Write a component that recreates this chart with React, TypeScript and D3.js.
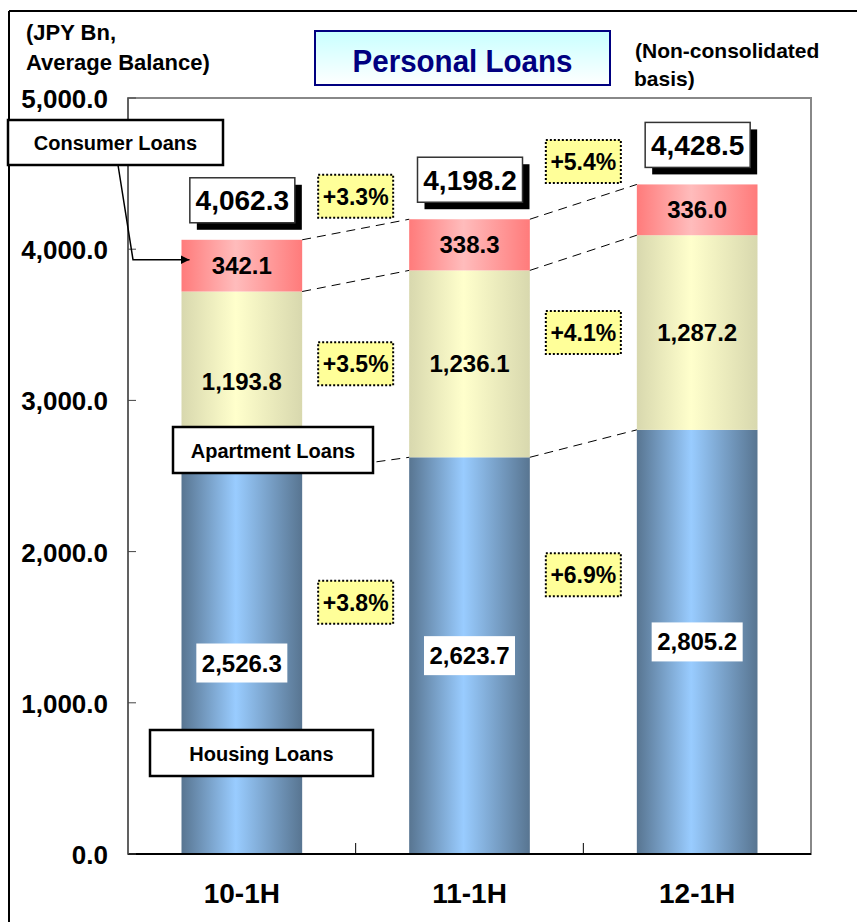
import React from "react";
import * as d3 from "d3";

const categories = ["10-1H", "11-1H", "12-1H"];
const housing = [2526.3, 2623.7, 2805.2];
const apartment = [1193.8, 1236.1, 1287.2];
const consumer = [342.1, 338.3, 336.0];
const totals = [4062.3, 4198.2, 4428.5];
const growthTotal = ["+3.3%", "+5.4%"];
const growthApartment = ["+3.5%", "+4.1%"];
const growthHousing = ["+3.8%", "+6.9%"];
const yTicks = [0, 1000, 2000, 3000, 4000, 5000];

const W = 857;
const H = 922;
const FONT = "'Liberation Sans', Arial, sans-serif";
const fmt = d3.format(",.1f");

export default function App() {
  const x = d3
    .scaleBand<string>()
    .domain(categories)
    .range([128, 811])
    .paddingInner(0.47)
    .paddingOuter(0.235);
  const y = d3.scaleLinear().domain([0, 5000]).range([854, 98]);
  const bw = x.bandwidth();
  const step = x.step();

  const stack = categories.map((c, i) => {
    const h0 = 0;
    const h1 = housing[i];
    const a1 = h1 + apartment[i];
    const c1 = a1 + consumer[i];
    return { c, i, x0: x(c)!, h0, h1, a1, c1 };
  });

  const boundaries = [(s: any) => s.h1, (s: any) => s.a1, (s: any) => s.c1];

  const growthBox = (label: string, cx: number, cy: number, key: string) => (
    <g key={key}>
      <rect x={cx - 37.5} y={cy - 21.5} width={75} height={43} fill="#ffff99" stroke="#000" strokeWidth={2} strokeDasharray="2,2" />
      <text x={cx} y={cy + 8.5} textAnchor="middle" fontFamily={FONT} fontWeight="bold" fontSize={23} fill="#000">
        {label}
      </text>
    </g>
  );

  const labelBox = (label: string, x0: number, y0: number, w: number, h: number, key: string) => (
    <g key={key}>
      <rect x={x0} y={y0} width={w} height={h} fill="#fff" stroke="#000" strokeWidth={2.5} />
      <text x={x0 + w / 2} y={y0 + h / 2 + 7.5} textAnchor="middle" fontFamily={FONT} fontWeight="bold" fontSize={20} fill="#000">
        {label}
      </text>
    </g>
  );

  return (
    <div style={{ position: "absolute", left: 0, top: 0 }}>
      <svg width={W} height={H} viewBox={`0 0 ${W} ${H}`} style={{ display: "block", background: "#fff" }}>
        <defs>
          <linearGradient id="gHousing" x1="0" x2="1" y1="0" y2="0">
            <stop offset="0" stopColor="#587591" />
            <stop offset="0.45" stopColor="#99ccff" />
            <stop offset="1" stopColor="#587591" />
          </linearGradient>
          <linearGradient id="gApartment" x1="0" x2="1" y1="0" y2="0">
            <stop offset="0" stopColor="#d8d8ae" />
            <stop offset="0.45" stopColor="#ffffcc" />
            <stop offset="1" stopColor="#d8d8ae" />
          </linearGradient>
          <linearGradient id="gConsumer" x1="0" x2="1" y1="0" y2="0">
            <stop offset="0" stopColor="#ff7b7b" />
            <stop offset="0.45" stopColor="#ffbcbc" />
            <stop offset="1" stopColor="#ff7b7b" />
          </linearGradient>
          <linearGradient id="gTitle" x1="0" x2="0" y1="0" y2="1">
            <stop offset="0" stopColor="#c8ffff" />
            <stop offset="1" stopColor="#ffffff" />
          </linearGradient>
          <marker id="arrow" viewBox="0 0 10 10" refX="10" refY="5" markerWidth="9" markerHeight="9" orient="auto" markerUnits="userSpaceOnUse">
            <path d="M0,0 L10,5 L0,10 z" fill="#000" />
          </marker>
        </defs>

        {/* outer frame */}
        <line x1={9} y1={11} x2={W} y2={11} stroke="#000" strokeWidth={2} />
        <line x1={9} y1={11} x2={9} y2={H} stroke="#000" strokeWidth={2} />

        {/* plot frame */}
        <rect x={128} y={98} width={683} height={756} fill="none" stroke="#888" strokeWidth={2} />

        {/* bars */}
        {stack.map((s) => (
          <g key={s.c}>
            <rect x={s.x0} y={y(s.h1)} width={bw} height={y(s.h0) - y(s.h1)} fill="url(#gHousing)" />
            <rect x={s.x0} y={y(s.a1)} width={bw} height={y(s.h1) - y(s.a1)} fill="url(#gApartment)" />
            <rect x={s.x0} y={y(s.c1)} width={bw} height={y(s.a1) - y(s.c1)} fill="url(#gConsumer)" />
          </g>
        ))}

        {/* dashed connectors */}
        {stack.slice(0, -1).map((s, i) =>
          boundaries.map((b, j) => {
            const n = stack[i + 1];
            return (
              <line
                key={`d${i}${j}`}
                x1={s.x0 + bw}
                y1={y(b(s))}
                x2={n.x0}
                y2={y(b(n))}
                stroke="#000"
                strokeWidth={1}
                strokeDasharray="9,6"
              />
            );
          })
        )}

        {/* axes */}
        <line x1={128} y1={854} x2={811} y2={854} stroke="#000" strokeWidth={2} />
        <line x1={128} y1={98} x2={128} y2={854} stroke="#555" strokeWidth={1.5} />
        {yTicks.map((t) => (
          <g key={t}>
            <line x1={128} x2={136} y1={y(t)} y2={y(t)} stroke="#444" strokeWidth={1} />
            <text x={108} y={y(t) + 10} textAnchor="end" fontFamily={FONT} fontWeight="bold" fontSize={26} fill="#000">
              {fmt(t)}
            </text>
          </g>
        ))}
        {categories.slice(1).map((c) => (
          <line key={c} x1={x(c)! - (step - bw) / 2} x2={x(c)! - (step - bw) / 2} y1={843} y2={854} stroke="#000" strokeWidth={1} />
        ))}
        {categories.map((c) => (
          <text key={c} x={x(c)! + bw / 2} y={903} textAnchor="middle" fontFamily={FONT} fontWeight="bold" fontSize={28} fill="#000">
            {c}
          </text>
        ))}

        {/* segment labels */}
        {stack.map((s, i) => {
          const cx = s.x0 + bw / 2;
          const hc = (y(s.h0) + y(s.h1)) / 2;
          const ac = (y(s.h1) + y(s.a1)) / 2;
          const cc = (y(s.a1) + y(s.c1)) / 2;
          const ty = y(totals[i]) - 17;
          return (
            <g key={`l${s.c}`}>
              <rect x={cx - 45.5} y={hc - 19.5} width={91} height={39} fill="#fff" />
              <text x={cx} y={hc + 8.5} textAnchor="middle" fontFamily={FONT} fontWeight="bold" fontSize={24} fill="#000">
                {fmt(housing[i])}
              </text>
              <text x={cx} y={ac + 8.5} textAnchor="middle" fontFamily={FONT} fontWeight="bold" fontSize={24} fill="#000">
                {fmt(apartment[i])}
              </text>
              <text x={cx} y={cc + 8.5} textAnchor="middle" fontFamily={FONT} fontWeight="bold" fontSize={24} fill="#000">
                {fmt(consumer[i])}
              </text>
              <rect x={cx - 52 + 7} y={ty - 45 + 7} width={105} height={45} fill="#000" />
              <rect x={cx - 52} y={ty - 45} width={105} height={45} fill="#fff" stroke="#333" strokeWidth={1.5} />
              <text x={cx + 0.5} y={ty - 12.5} textAnchor="middle" fontFamily={FONT} fontWeight="bold" fontSize={28} fill="#000">
                {fmt(totals[i])}
              </text>
            </g>
          );
        })}

        {/* growth labels */}
        {stack.slice(0, -1).map((s, i) => {
          const n = stack[i + 1];
          const gx = (s.x0 + bw + n.x0) / 2;
          return (
            <g key={`g${i}`}>
              {growthBox(growthTotal[i], gx, y(n.c1) - 23, `gt${i}`)}
              {growthBox(growthApartment[i], gx, (y(n.h1) + y(n.a1)) / 2, `ga${i}`)}
              {growthBox(growthHousing[i], gx, y(n.h1) + 145, `gh${i}`)}
            </g>
          );
        })}

        {/* series name boxes */}
        <polyline
          points={`118,165 133,${(y(stack[0].a1) + y(stack[0].c1)) / 2 - 6} ${stack[0].x0 + 8},${(y(stack[0].a1) + y(stack[0].c1)) / 2 - 6}`}
          fill="none"
          stroke="#000"
          strokeWidth={1.5}
          markerEnd="url(#arrow)"
        />
        {labelBox("Consumer Loans", 8, 120, 215, 45, "bc")}
        {labelBox("Apartment Loans", 173, 427, 200, 46, "ba")}
        {labelBox("Housing Loans", 150, 730, 223, 46, "bh")}

        {/* title & notes */}
        <rect x={315} y={31} width={295} height={54} fill="url(#gTitle)" stroke="#000080" strokeWidth={2} />
        <text x={462.5} y={72} textAnchor="middle" fontFamily={FONT} fontWeight="bold" fontSize={32} fill="#000080" textLength={220} lengthAdjust="spacingAndGlyphs">
          Personal Loans
        </text>
        <text x={26} y={40} fontFamily={FONT} fontWeight="bold" fontSize={22} fill="#000">(JPY Bn,</text>
        <text x={26} y={70} fontFamily={FONT} fontWeight="bold" fontSize={22} fill="#000">Average Balance)</text>
        <text x={635} y={58} fontFamily={FONT} fontWeight="bold" fontSize={21} fill="#000">(Non-consolidated</text>
        <text x={634} y={86} fontFamily={FONT} fontWeight="bold" fontSize={21} fill="#000">basis)</text>
      </svg>
    </div>
  );
}
